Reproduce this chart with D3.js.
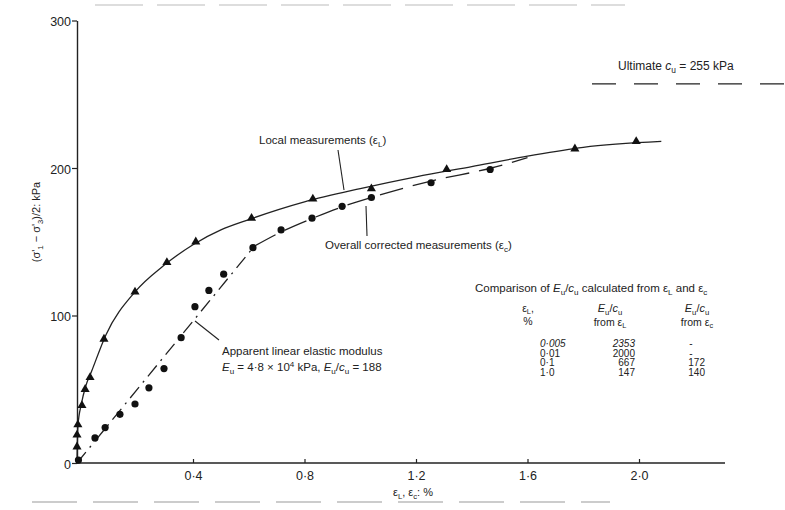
<!DOCTYPE html>
<html>
<head>
<meta charset="utf-8">
<script src="https://cdn.jsdelivr.net/npm/d3@7"></script>
<style>
  body { margin: 0; background: #fff; }
  svg { display: block; font-family: "Liberation Sans", Arial, sans-serif; }
</style>
</head>
<body>
<svg id="chart" width="785" height="510"></svg>
<script>
// measured points, local strain gauges (triangles)
const localStrain = [0, 0, 0.003, 0.017, 0.028, 0.045, 0.093, 0.2, 0.31, 0.41, 0.61, 0.83, 1.04, 1.31, 1.77, 1.99];
const localStress = [11, 19, 26, 39, 50, 58, 84, 116, 136, 150, 166, 179, 186, 199, 213, 218];

// measured points, overall corrected (circles)
const overallStrain = [0.005, 0.062, 0.097, 0.148, 0.2, 0.248, 0.3, 0.359, 0.407, 0.457, 0.51, 0.615, 0.716, 0.827, 0.935, 1.04, 1.254, 1.466];
const overallStress = [2, 17, 24, 33, 40, 51, 64, 85, 106, 117, 128, 146, 158, 166, 174, 180, 190, 199];

// hand drawn curves
const localFitStrain = [0, 0.003, 0.015, 0.03, 0.05, 0.1, 0.2, 0.3, 0.4, 0.5, 0.6, 0.8, 1.0, 1.2, 1.4, 1.6, 1.8, 2.08];
const localFitStress = [0, 25, 40, 52, 62, 87, 116, 134, 148, 158, 165, 177, 186, 194, 201, 208, 214, 218];
const overallFitStrain = [0.62, 0.72, 0.83, 0.94, 1.04, 1.25, 1.47, 1.6];
const overallFitStress = [147, 157, 166, 174, 180, 191, 200, 207];
const linearStrain = [0, 0.62];
const linearStress = [0, 147];

const ultimateCu = 255;

const xTicks = [0.4, 0.8, 1.2, 1.6, 2.0];
const yTicks = [0, 100, 200, 300];

const tableStrain = ["0·005", "0·01", "0·1", "1·0"];
const tableLocal = ["2353", "2000", "667", "147"];
const tableOverall = ["-", "-", "172", "140"];

const ink = "#222";

const svg = d3.select("#chart");

// scanned axis is a little uneven, so the scale is piecewise
const x = d3.scaleLinear().domain([0, 0.4, 2.0]).range([77, 193, 639]);
const y = d3.scaleLinear().domain([0, 300]).range([463, 20.5]);

// writes text built from parts: [string, kind] where kind is "", "i", "sub", "isub", "sup"
function rich(g, px, py, parts, size, anchor) {
    const t = g.append("text")
        .attr("x", px).attr("y", py)
        .attr("font-size", size)
        .attr("fill", ink)
        .attr("text-anchor", anchor || "start");
    parts.forEach(([s, kind]) => {
        const ts = t.append("tspan").text(s);
        if (kind === "i" || kind === "isub") ts.attr("font-style", "italic");
        if (kind === "sub" || kind === "isub") {
            ts.attr("baseline-shift", "-35%").attr("font-size", size * 0.7);
        }
        if (kind === "sup") {
            ts.attr("baseline-shift", "45%").attr("font-size", size * 0.7);
        }
    });
    return t;
}

// scan page edges
svg.append("line")
    .attr("x1", 95).attr("x2", 625).attr("y1", 5).attr("y2", 5)
    .attr("stroke", "#bbb").attr("stroke-width", 1.2)
    .attr("stroke-dasharray", "48,14");
svg.append("line")
    .attr("x1", 32).attr("x2", 610).attr("y1", 502).attr("y2", 502)
    .attr("stroke", "#999").attr("stroke-width", 1.2)
    .attr("stroke-dasharray", "45,16");

// axes
const yAxis = svg.append("g")
    .attr("transform", `translate(${x(0)},0)`)
    .call(d3.axisLeft(y).tickValues(yTicks).tickSize(5).tickPadding(1).tickSizeOuter(0));
const xAxis = svg.append("g")
    .attr("transform", `translate(0,${y(0)})`)
    .call(d3.axisBottom(x).tickValues(xTicks).tickSize(-4).tickPadding(8)
        .tickFormat(d => d3.format(".1f")(d).replace(".", "·")));
xAxis.select(".domain").attr("d", `M${x(0)},0H725`);

[yAxis, xAxis].forEach(a => {
    a.select(".domain").attr("stroke", ink).attr("stroke-width", 1.4);
    a.selectAll(".tick line").attr("stroke", ink).attr("stroke-width", 1.2);
    a.selectAll(".tick text")
        .attr("fill", ink)
        .attr("font-size", 12.5)
        .attr("font-family", "Liberation Sans, Arial, sans-serif");
});
yAxis.selectAll(".tick text").attr("dy", "0.4em");

// axis titles
rich(svg, 393, 496, [["ε", ""], ["L", "sub"], [", ε", ""], ["c", "sub"], [": %", ""]], 11);
rich(svg.append("g").attr("transform", "translate(40,222) rotate(-90)"), 0, 0,
    [["(σ'", ""], ["1", "sub"], [" − σ'", ""], ["3", "sub"], [")/2: kPa", ""]], 11, "middle");

// curves
const line = d3.line().x(d => x(d[0])).y(d => y(d[1]));

svg.append("path")
    .datum(d3.zip(localFitStrain, localFitStress))
    .attr("d", line.curve(d3.curveMonotoneX))
    .attr("fill", "none").attr("stroke", ink).attr("stroke-width", 1.3);

svg.append("path")
    .datum(d3.zip(overallFitStrain, overallFitStress))
    .attr("d", line.curve(d3.curveMonotoneX))
    .attr("fill", "none").attr("stroke", ink).attr("stroke-width", 1.3)
    .attr("stroke-dasharray", "24,10");

svg.append("path")
    .datum(d3.zip(linearStrain, linearStress))
    .attr("d", line.curve(d3.curveLinear))
    .attr("fill", "none").attr("stroke", ink).attr("stroke-width", 1.3)
    .attr("stroke-dasharray", "14,6,2,6");

// ultimate cu
svg.append("line")
    .attr("x1", 592).attr("x2", 785)
    .attr("y1", y(ultimateCu) - 3).attr("y2", y(ultimateCu) - 3)
    .attr("stroke", ink).attr("stroke-width", 1.3)
    .attr("stroke-dasharray", "24,18");
rich(svg, 618, y(ultimateCu) - 17,
    [["Ultimate ", ""], ["c", "i"], ["u", "sub"], [" = 255 kPa", ""]], 12);

// markers
svg.selectAll(".tri")
    .data(d3.zip(localStrain, localStress))
    .join("path")
    .attr("class", "tri")
    .attr("transform", d => `translate(${x(d[0])},${y(d[1])})`)
    .attr("d", d3.symbol(d3.symbolTriangle, 36))
    .attr("fill", "#111");

svg.selectAll(".dot")
    .data(d3.zip(overallStrain, overallStress))
    .join("circle")
    .attr("class", "dot")
    .attr("cx", d => x(d[0]))
    .attr("cy", d => y(d[1]))
    .attr("r", 3.6)
    .attr("fill", "#111");

// annotations
const lead = (x1, y1, x2, y2) => svg.append("line")
    .attr("x1", x1).attr("y1", y1).attr("x2", x2).attr("y2", y2)
    .attr("stroke", ink).attr("stroke-width", 1.1);

rich(svg, 259, 144, [["Local measurements (ε", ""], ["L", "sub"], [")", ""]], 11.5);
lead(338, 150, 344, 190);

rich(svg, 325, 249, [["Overall corrected measurements (ε", ""], ["c", "sub"], [")", ""]], 11.5);
lead(367, 236, 366, 206);

rich(svg, 222, 355, [["Apparent linear elastic modulus", ""]], 11.5);
rich(svg, 222, 371, [["E", "i"], ["u", "sub"], [" = 4·8 × 10", ""], ["4", "sup"], [" kPa, ", ""],
    ["E", "i"], ["u", "sub"], ["/", ""], ["c", "i"], ["u", "sub"], [" = 188", ""]], 11.5);
lead(219, 340, 195, 321);

// comparison table
rich(svg, 475, 292, [["Comparison of ", ""], ["E", "i"], ["u", "sub"], ["/", ""], ["c", "i"], ["u", "sub"],
    [" calculated from ", ""], ["ε", ""], ["L", "sub"], [" and ", ""], ["ε", ""], ["c", "sub"]], 11.5);

rich(svg, 528, 312, [["ε", ""], ["L", "sub"], [",", ""]], 10.5, "middle");
rich(svg, 528, 325, [["%", ""]], 10.5, "middle");
rich(svg, 610, 312, [["E", "i"], ["u", "sub"], ["/", ""], ["c", "i"], ["u", "sub"]], 11, "middle");
rich(svg, 610, 326, [["from ε", ""], ["L", "sub"]], 10.5, "middle");
rich(svg, 697, 312, [["E", "i"], ["u", "sub"], ["/", ""], ["c", "i"], ["u", "sub"]], 11, "middle");
rich(svg, 697, 326, [["from ε", ""], ["c", "sub"]], 10.5, "middle");

const rowY = d3.scaleLinear().domain([0, 3]).range([347, 375.5]);
const table = svg.append("g")
    .attr("font-size", 10)
    .attr("fill", ink);
table.selectAll(".c1").data(tableStrain).join("text")
    .attr("x", 540).attr("y", (d, i) => rowY(i))
    .attr("font-style", (d, i) => i === 0 ? "italic" : null)
    .text(d => d);
table.selectAll(".c2").data(tableLocal).join("text")
    .attr("x", 635).attr("y", (d, i) => rowY(i))
    .attr("text-anchor", "end")
    .attr("font-style", (d, i) => i === 0 ? "italic" : null)
    .text(d => d);
table.selectAll(".c3").data(tableOverall).join("text")
    .attr("x", d => d === "-" ? 691 : 705).attr("y", (d, i) => rowY(i))
    .attr("text-anchor", d => d === "-" ? "middle" : "end")
    .text(d => d);
</script>
</body>
</html>
